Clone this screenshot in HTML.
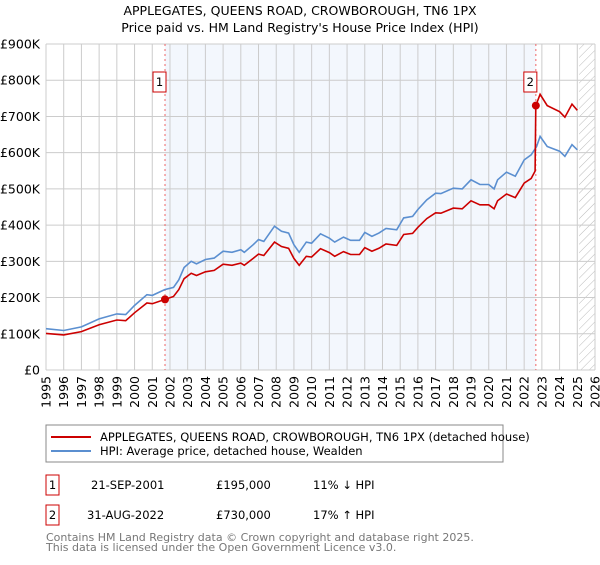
<!DOCTYPE html>
<html><head><meta charset="utf-8"><style>
body{margin:0;background:#fff;font-family:"Liberation Sans","DejaVu Sans",sans-serif;}
svg text{font-family:"DejaVu Sans","Liberation Sans",sans-serif;}
</style></head><body>
<svg id="c" width="600" height="560" xmlns="http://www.w3.org/2000/svg">
<text x="300" y="15" text-anchor="middle" font-size="12.5">APPLEGATES, QUEENS ROAD, CROWBOROUGH, TN6 1PX</text>
<text x="300" y="32" text-anchor="middle" font-size="12.5">Price paid vs. HM Land Registry's House Price Index (HPI)</text>
<g id="plot"></g>
<rect x="46" y="425" width="457" height="37" fill="#fff" stroke="#888"/>
<line x1="51" y1="437" x2="91" y2="437" stroke="#cc0000" stroke-width="2"/>
<text x="100" y="441" font-size="11.5">APPLEGATES, QUEENS ROAD, CROWBOROUGH, TN6 1PX (detached house)</text>
<line x1="51" y1="451" x2="91" y2="451" stroke="#5b8fd0" stroke-width="2"/>
<text x="100" y="455" font-size="11.5">HPI: Average price, detached house, Wealden</text>
<g font-size="11.5">
<rect x="46" y="475" width="13" height="20" fill="#fff" stroke="#cc0000"/>
<text x="52.5" y="489" text-anchor="middle">1</text>
<text x="91" y="489">21-SEP-2001</text><text x="216" y="489">£195,000</text><text x="313" y="489">11% ↓ HPI</text>
<rect x="46" y="505" width="13" height="20" fill="#fff" stroke="#cc0000"/>
<text x="52.5" y="519" text-anchor="middle">2</text>
<text x="87" y="519">31-AUG-2022</text><text x="216" y="519">£730,000</text><text x="313" y="519">17% ↑ HPI</text>
</g>
<text x="46" y="541" font-size="11" fill="#777">Contains HM Land Registry data © Crown copyright and database right 2025.</text>
<text x="46" y="551" font-size="11" fill="#777">This data is licensed under the Open Government Licence v3.0.</text>
</svg>
<script>
const hpiYears=[1995,1996,1997,1998,1999,1999.5,2000,2000.7,2001,2001.7,2002.2,2002.5,2002.8,2003.2,2003.5,2004,2004.5,2005,2005.5,2006,2006.2,2006.7,2007,2007.3,2007.9,2008.3,2008.7,2009,2009.3,2009.7,2010,2010.5,2011,2011.3,2011.8,2012.2,2012.7,2013,2013.4,2013.8,2014.2,2014.8,2015.2,2015.7,2016,2016.5,2017,2017.3,2018,2018.5,2019,2019.5,2020,2020.3,2020.5,2021,2021.5,2022,2022.4,2022.7,2022.9,2023.3,2024,2024.3,2024.7,2025.0];
const hpiValues=[114,109,119,141,155,153,178,208,206,222,228,249,283,300,293,305,309,328,325,332,325,346,360,355,397,383,378,346,325,353,350,376,364,353,367,358,358,380,369,378,391,387,420,424,443,470,488,487,502,500,525,512,512,500,525,546,535,580,594,617,645,617,604,590,622,608];
const redYears=[1995,1996,1997,1998,1999,1999.5,2000,2000.7,2001,2001.72,2002.2,2002.5,2002.8,2003.2,2003.5,2004,2004.5,2005,2005.5,2006,2006.2,2006.7,2007,2007.3,2007.9,2008.3,2008.7,2009,2009.3,2009.7,2010,2010.5,2011,2011.3,2011.8,2012.2,2012.7,2013,2013.4,2013.8,2014.2,2014.8,2015.2,2015.7,2016,2016.5,2017,2017.3,2018,2018.5,2019,2019.5,2020,2020.3,2020.5,2021,2021.5,2022,2022.4,2022.62,2022.66,2022.9,2023.3,2024,2024.3,2024.7,2025.0];
const redValues=[101,97,106,125,138,136,158,185,183,195,203,222,252,267,261,271,275,292,289,295,289,308,320,316,353,341,336,308,289,314,312,335,324,314,327,319,319,338,328,336,348,344,374,377,394,418,434,433,447,445,467,456,456,445,467,486,476,516,529,549,730,761,730,713,698,734,717];
const saleYears=[2001.72,2022.66];
const saleValues=[195,730];
const saleLabels=["1","2"];
const yTicks=[0,100,200,300,400,500,600,700,800,900];
const yTickLabels=["£0","£100K","£200K","£300K","£400K","£500K","£600K","£700K","£800K","£900K"];
const xTicks=[];for(let y=1995;y<=2026;y++)xTicks.push(y);
const NS="http://www.w3.org/2000/svg";
const L=46,R=595,T=44,B=370,X0=1995,X1=2026,YMAX=900;
const xs=v=>L+(v-X0)/(X1-X0)*(R-L);
const ys=v=>B-v/YMAX*(B-T);
const g=document.getElementById('plot');
function mk(t,a){const e=document.createElementNS(NS,t);for(const k in a)e.setAttribute(k,a[k]);g.appendChild(e);return e;}
let e=mk('rect',{x:xs(saleYears[0]),y:T,width:xs(saleYears[1])-xs(saleYears[0]),height:B-T,fill:'#eef3fc',opacity:0.7});


const defs=document.createElementNS(NS,'defs');defs.innerHTML='<pattern id="h" width="6" height="6" patternUnits="userSpaceOnUse" patternTransform="rotate(45)"><line x1="0" y1="0" x2="0" y2="6" stroke="#bbb" stroke-width="1"/></pattern>';g.appendChild(defs);
e=mk('rect',{x:xs(2025.1),y:T,width:R-xs(2025.1),height:B-T,fill:'url(#h)'});


xTicks.forEach(v=>{let l=mk('line',{x1:xs(v),x2:xs(v),y1:T,y2:B,stroke:'#ccc'});


let t=mk('text',{x:0,y:0,'font-size':12.5,transform:`translate(${xs(v)+4.5},${B+6}) rotate(-90)`,'text-anchor':'end'});t.textContent=v;

});
yTicks.forEach((v,i)=>{let l=mk('line',{x1:L,x2:R,y1:ys(v),y2:ys(v),stroke:'#ccc'});


let t=mk('text',{x:L-6,y:ys(v)+4.5,'font-size':12.5,'text-anchor':'end'});t.textContent=yTickLabels[i];

});
saleYears.forEach((v,i)=>{let l=mk('line',{x1:xs(v),x2:xs(v),y1:T,y2:B,stroke:'#e66','stroke-dasharray':'2,3'});

});
function path(xa,va,col,name){let d=xa.map((x,i)=>(i?'L':'M')+xs(x).toFixed(1)+','+ys(va[i]).toFixed(1)).join('');
let p=mk('path',{d:d,fill:'none',stroke:col,'stroke-width':1.6});

}
path(hpiYears,hpiValues,'#5b8fd0','hpi-line');
path(redYears,redValues,'#cc0000','property-line');
saleYears.forEach((v,i)=>{let c=mk('circle',{cx:xs(v),cy:ys(saleValues[i]),r:4,fill:'#cc0000'});


let bx=xs(v)-8-(i?3:-0);
let r=mk('rect',{x:xs(v)-12,y:72,width:13,height:20,fill:'#fff',stroke:'#cc0000'});


let t=mk('text',{x:xs(v)-5.5,y:86,'font-size':11.5,'text-anchor':'middle'});t.textContent=saleLabels[i];

});
</script>
</body></html>
